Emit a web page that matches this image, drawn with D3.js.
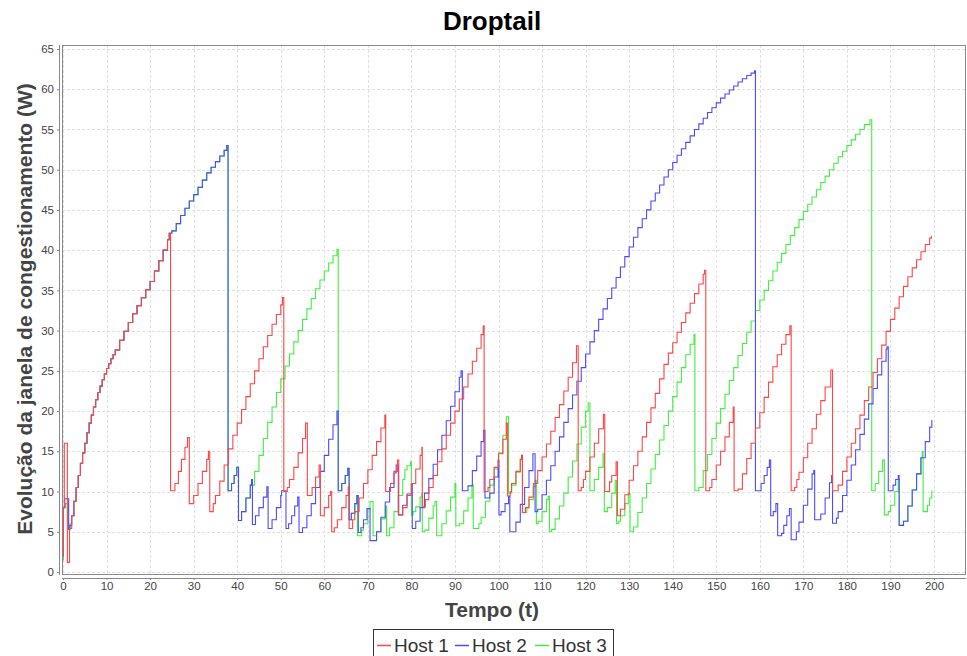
<!DOCTYPE html>
<html>
<head>
<meta charset="utf-8">
<script src="https://cdn.jsdelivr.net/npm/d3@7"></script>
<style>
  body { margin: 0; background: #fff; }
  svg { display: block; font-family: "Liberation Sans", Arial, sans-serif; }
</style>
</head>
<body>
<svg id="chart" width="967" height="656"></svg>
<script>
// ---- data: congestion window (W) of each host over time (t) ----
const xTicks = [0,10,20,30,40,50,60,70,80,90,100,110,120,130,140,150,160,170,180,190,200];
const yTicks = [0,5,10,15,20,25,30,35,40,45,50,55,60,65];
const seriesNames = ["Host 1", "Host 2", "Host 3"];

// slow start shared by the three hosts
const commonRise = [[2,7],[2.5,8.8],[3,10.5],[3.5,12],[4,13.5],[4.5,14.8],[5,16],[5.5,17.3],[6,18.5],[6.5,19.5],[7,20.5],[7.5,21.4],[8,22.3],[8.5,23.1],[9,23.9],[9.5,24.6],[10,25.3],[10.5,25.9],[11,26.5],[11.5,27],[12,27.6],[13,28.8],[14,29.9],[15,31],[16,32.1],[17,33.1],[18,34.1],[19,35.1],[20,36.1],[21,37.4],[22,38.7],[23,40],[24,41.3],[24.4,42.1]];
// continuation shared by hosts 2 and 3 until the loss at t≈37.8
const commonRise23 = [[25,42.4],[26,43.3],[27,44.3],[28,45.2],[29,46.1],[30,46.9],[31,47.8],[32,48.7],[33,49.6],[34,50.3],[35,51],[36,51.7],[37,52.4],[37.6,53],[37.9,10.1],[38.7,11],[39.3,12],[39.9,13],[40.3,6.4],[41,7.5],[42,9.2],[43,10.8]];

const host1 = [[0,2],[0.1,8],[0.3,16],[1.0,1.2],[1.5,5.4]].concat(commonRise, [
  [24.7,10.1],[25.7,11],[26.5,12.5],[27.2,14],[28,15.5],[28.6,16.7],[29.0,8.5],[30,9.5],[31,11],[32,12.5],[33,14],[33.4,15],
  [33.7,7.5],[34.5,8.5],[35,9.5],[36,11.3],[37,13.3],[38,15.3],[39,17],[40,18.5],[41,20.2],[42,21.8],[43,23.4],[44,25],[45,26.5],[46,28],[47,29.4],[48,30.8],[49,32],[50,33.2],[50.4,34.1],
  [50.7,10],[51.5,10.5],[52,11.5],[53,13],[54,14.8],[55,16.6],[55.7,18.5],[56.1,9.5],[57.2,10.5],[58,11.8],[58.8,13.3],
  [59.1,7],[60,8],[61,9.5],[61.4,10],[61.7,5],[62.3,5.5],[63,6.5],[64,8],[65,9.5],[65.5,10.6],
  [65.7,5.4],[66.5,6.5],[67,7.5],[68,9.2],[69,11],[70,12.7],[71,14.5],[72,16.2],[73,17.9],[73.9,19.5],
  [74.1,10],[75.2,11],[76,12.5],[76.8,13.9],[77.1,7.1],[78,8],[79,9.5],[80,11],[81,12.8],[82,14.5],[82.4,15.5],
  [82.5,8.1],[83.2,9],[84,10.5],[85,12],[86,13.7],[87,15.3],[88,17],[89,18.5],[90,20],[91,21.5],[92,23],[93,24.6],[94,26.2],[95,27.8],[96,29.5],[96.5,30.6],
  [96.7,10],[97.6,10.5],[98,11.5],[99,13],[100,14.7],[101,16.5],[101.8,18.5],[102.1,9.45],[102.7,10],[103,11],[104,12.5],[105,14],[105.3,14.5],
  [105.5,7.4],[106.2,8],[107,9.3],[108,11],[109,12.6],[110,14.3],[111,15.9],[112,17.5],[113,19.2],[114,20.8],[115,22.5],[116,24.2],[117,26],[117.9,28.1],
  [118.3,10.1],[119,10.5],[119.5,11.5],[120,12.5],[121,14.3],[122,16],[123,17.8],[124.1,19.6],[124.4,10],[125.5,11.2],[126,12],[127,13.7],
  [127.3,7],[128,7.8],[129,9.6],[130,11.4],[131,13.2],[132,15],[133,16.8],[134,18.6],[135,20.4],[136,22.2],[137,24],[138,25.8],[139,27.2],[140,28.5],[141,29.8],[142,31],[143,32.2],[144,33.4],[145,34.6],[146,35.8],[147,37],[147.3,37.5],
  [147.6,10.1],[148.5,10.5],[149,11.5],[150,13.3],[151,15],[152,16.8],[153,18.6],[153.9,20.5],
  [154.1,10.1],[155,10.3],[156,12.2],[157,14.1],[158,16],[159,17.9],[160,19.8],[161,21.7],[162,23.6],[163,25.5],[164,27],[165,28.3],[166,29.5],[166.9,30.6],
  [167.2,10.1],[168,10.5],[168.5,11.5],[169,12.4],[170,14.2],[171,16],[172,17.8],[173,19.6],[174,21.3],[175,23],[176.3,25.1],
  [176.7,10.1],[178,10.8],[179,12.5],[180,14.3],[181,16],[182,17.8],[183,19.5],[184,21.3],[185,23],[186,24.8],[187,26.5],[188,28.2],[189,29.9],[190,31.4],[191,32.8],[192,34.2],[193,35.5],[194,36.7],[195,37.8],[196,38.8],[197,39.8],[198,40.7],[199,41.5],[199.4,41.8]
]);

const host2 = [[0,2],[0.1,8],[0.4,9.1],[1.3,5.3],[1.6,5.8]].concat(commonRise, commonRise23, [
  [43.3,11.5],[43.5,5.9],[44.2,7],[45,8],[46,9.3],[46.8,10.6],[47.1,5.4],[48,6.5],[49,8],[50,9.5],[50.2,10.1],
  [51.2,5.4],[51.8,6],[52.5,7],[53.2,8.2],[53.9,9.3],[54.2,4.9],[55,5.5],[56,7],[57,8.5],[58,10.5],[59,12.5],[60,14.5],[61,16.5],[62,18.3],[62.9,20],
  [63.2,10.1],[64,11],[64.8,12],[65.4,12.9],[65.7,6.5],[66.2,7.3],[67,8.5],[67.5,9.5],[67.8,4.9],[68.4,5.5],[69,6.5],[69.8,7.9],
  [70.5,3.9],[72,5],[73,6.8],[74,8.7],[75,10.5],[76,12.3],[76.5,13.3],[77,7.1],[78,8.3],[79,9.7],[80,11],
  [80.2,5.4],[81,6.3],[82,8],[83,9.8],[84,11.6],[85,13.4],[86,15.2],[87,17],[88,18.8],[89,20.6],[90,22.4],[91,24.2],[91.4,25],
  [91.7,10.1],[93,10.7],[94,12.6],[95,14.4],[96,16.2],[96.6,17.6],[96.9,9.2],[98,9.8],[99,11.8],[99.9,13.9],
  [100.1,7.1],[100.6,7.5],[101.5,8.5],[102.3,9.4],[102.6,5],[104,6.2],[105,8.4],[106,10.5],[107,12.6],[107.9,14.7],
  [108.4,7.5],[109,7.8],[110,9.6],[111,11.4],[112,13.2],[113,15],[114,16.8],[115,18.6],[116,20.3],[117,22],[118,23.7],[119,25.4],[120,27.1],
  [121,28.6],[122,30],[123,31.4],[124,32.7],[125,34],[126,35.3],[127,36.6],[128,37.9],[129,39.2],[130,40.4],[131,41.6],[132,42.8],[133,43.9],[134,45],
  [135,46.1],[136,47.1],[137,48.1],[138,49.1],[139,50],[140,50.9],[141,51.8],[142,52.6],[143,53.4],[144,54.2],[145,55],[146,55.7],[147,56.4],[148,57.1],
  [149,57.7],[150,58.3],[151,58.9],[152,59.4],[153,59.9],[154,60.4],[155,60.9],[156,61.3],[157,61.7],[158,62],[158.8,62.3],
  [159,10.1],[160.3,11],[161,12],[161.7,13],[162.2,13.9],[162.5,7],[163.1,7.5],[163.7,8.5],[164.1,4.5],[165,4.8],[165.5,5.8],[166.2,7],[166.8,7.9],
  [167.2,4],[168.4,5],[169,6.2],[170,8.3],[171,10.3],[172,12.2],[172.4,12.6],[172.6,6.5],[174,7.2],[175,9.2],[176,11.1],[176.5,12],
  [176.7,6.05],[177.6,6.7],[178,7.5],[179,9.5],[180,11.4],[181,13.3],[182,15.2],[183,17.1],[184,19],[185,20.9],[186,22.8],[187,24.5],[188,26.2],[189,27.7],[189.2,28],
  [189.5,10.1],[190.6,10.8],[191.2,11.5],[191.8,12],[192,5.8],[193,6.3],[194,8.2],[195,10.2],[196,12.2],[197,14.2],[198,16.2],[199,18],[199.5,18.9]
]);

const host3 = [[0,1.5],[0.1,8],[0.6,8.5],[1.2,5.4],[1.6,6]].concat(commonRise, commonRise23, [
  [44,12.5],[45,14.5],[46,16.6],[47,18.6],[48,20.5],[49,22.3],[50,24],[51,25.6],[52,27.1],[53,28.6],[54,30],[55,31.4],[56,32.7],[57,34],[58,35.2],[59,36.3],[60,37.4],[61,38.4],[62,39.3],[62.9,40.1],
  [63.2,10.1],[64,11],[64.8,12],[65.4,12.9],[65.7,6.5],[66.2,7.3],[67,8.5],[67.4,9.5],[67.6,4.5],[68.6,5.2],[69,6],[70,7.8],[70.5,8.75],
  [71.2,4.5],[72,5],[73,6.6],[74,8.2],[74.3,4.5],[75,5.5],[76,7.5],[77,9.5],[78,11.5],[78.5,12.7],[79,13.2],[79.8,13.7],
  [80,7.1],[80.4,7.5],[81,8.1],[82,9.3],[82.4,9.8],[82.5,5],[83.1,5.2],[84,6.7],[85,8.2],[85.4,8.75],[85.8,4.5],[87,6],[88,7.6],[89,9.3],[90,11],
  [90.2,5.75],[91,6],[92,7.6],[93,9.2],[93.9,10.8],[94.2,5.4],[95.5,6],[96,6.8],[97,8.8],[98,10.8],[99,12.8],[100,14.8],[101,17],[101.8,19.3],
  [102.3,9.8],[103,10.8],[104,12.4],[105,14],[105.3,14.5],[105.5,7.4],[106.5,8],[107,9],[108,10.6],[108.4,11.4],[108.7,6],[109.1,6.3],[110,7.5],[111,9],[111.4,9.4],
  [111.7,5],[112.2,5.3],[113,6.6],[114,8.2],[115,9.8],[116,11.8],[117,13.8],[118,15.9],[119,18],[120,20],[120.6,21],
  [121,10.1],[122,11.5],[123,13],[124,14.7],[124.3,7.5],[125,8],[126,9.8],[126.8,11.4],[127.1,6],[127.6,6.3],[128,7],[129,8.5],[129.8,9.8],
  [130.2,5],[131,5.6],[132,7.4],[133,9.2],[134,11],[135,12.8],[136,14.6],[137,16.4],[138,18.2],[139,20],[140,21.8],[141,23.6],[142,25.4],[143,27],[144,28.3],[144.9,29.5],
  [145.1,10.1],[146,10.5],[147,12.6],[148,14.6],[149,16.6],[150,18.5],[151,20.3],[152,22.1],[153,23.8],[154,25.4],[155,26.9],[156,28.4],[157,29.8],[158,31.2],[159,32.5],[160,33.8],
  [161,35],[162,36.2],[163,37.4],[164,38.5],[165,39.6],[166,40.7],[167,41.8],[168,42.8],[169,43.8],[170,44.8],[171,45.7],[172,46.6],[173,47.5],[174,48.4],[175,49.2],
  [176,50],[177,50.8],[178,51.6],[179,52.3],[180,53],[181,53.7],[182,54.4],[183,55],[184,55.6],[185.3,56.2],
  [185.7,10.1],[186.5,11],[187.3,12.5],[188.2,13.9],[188.6,7.1],[189.5,7.5],[190,8.3],[191,10],[191.8,11.5],
  [192,5.8],[193,6.3],[194,8.2],[195,10.2],[196,12.2],[197,14.2],[197.3,15],[197.5,7.5],[198.5,8.3],[199,9.2],[199.5,10.1]
]);

const seriesColors = ["#ff4545", "#4c4cff", "#40f040"];

// ---- layout ----
const svg = d3.select("#chart");
const plot = { left: 62, top: 45, right: 966, bottom: 575 };
const x = d3.scaleLinear().domain([0, 200]).range([63, 934]);
const y = d3.scaleLinear().domain([0, 65]).range([572, 49]);

svg.append("rect").attr("width", 967).attr("height", 656).attr("fill", "#fff");

// title
svg.append("text").attr("x", 492).attr("y", 30).attr("text-anchor", "middle")
  .attr("font-size", 26).attr("font-weight", "bold").attr("fill", "#000").text("Droptail");

// plot background + grid
svg.append("rect").attr("x", plot.left).attr("y", plot.top)
  .attr("width", plot.right - plot.left).attr("height", plot.bottom - plot.top).attr("fill", "#fff");

const grid = svg.append("g").attr("stroke", "#e0e0e0").attr("stroke-width", 1).attr("stroke-dasharray", "3,2");
grid.selectAll("line.v").data(xTicks).join("line")
  .attr("x1", d => Math.round(x(d)) + 0.5).attr("x2", d => Math.round(x(d)) + 0.5)
  .attr("y1", plot.top).attr("y2", plot.bottom);
grid.selectAll("line.h").data(yTicks).join("line")
  .attr("y1", d => Math.round(y(d)) + 0.5).attr("y2", d => Math.round(y(d)) + 0.5)
  .attr("x1", plot.left).attr("x2", plot.right);

// series
svg.append("clipPath").attr("id", "clip").append("rect")
  .attr("x", plot.left).attr("y", plot.top).attr("width", plot.right - plot.left).attr("height", plot.bottom - plot.top);

const line = d3.line().x(d => x(d[0])).y(d => y(d[1])).curve(d3.curveStepAfter);
const allSeries = [host1, host2, host3];
const lines = svg.append("g").attr("clip-path", "url(#clip)");
// first series on top: draw in reverse order
[2, 1, 0].forEach(i => {
  lines.append("path").datum(allSeries[i])
    .attr("fill", "none").attr("stroke", seriesColors[i]).attr("stroke-width", 1.1)
    .attr("d", line);
});

// plot outline
svg.append("rect").attr("x", plot.left + 0.5).attr("y", plot.top + 0.5)
  .attr("width", plot.right - plot.left - 1).attr("height", plot.bottom - plot.top - 1)
  .attr("fill", "none").attr("stroke", "#8a8a8a").attr("stroke-width", 1);

// axes
const axisColor = "#888";
const yAxis = svg.append("g").attr("transform", "translate(59,0)")
  .call(d3.axisLeft(y).tickValues(yTicks).tickSize(2).tickSizeOuter(0).tickPadding(3));
yAxis.select(".domain").remove();
yAxis.append("line").attr("x1", 0.5).attr("x2", 0.5).attr("y1", plot.top).attr("y2", plot.bottom)
  .attr("stroke", axisColor).attr("stroke-width", 1);

const xAxis = svg.append("g").attr("transform", "translate(0,578)")
  .call(d3.axisBottom(x).tickValues(xTicks).tickSize(2).tickSizeOuter(0).tickPadding(2));
xAxis.select(".domain").remove();
xAxis.append("line").attr("x1", plot.left).attr("x2", plot.right).attr("y1", 0.5).attr("y2", 0.5)
  .attr("stroke", axisColor).attr("stroke-width", 1);

[yAxis, xAxis].forEach(a => {
  a.selectAll(".tick line").attr("stroke", axisColor);
  a.selectAll(".tick text").attr("fill", "#444").attr("font-size", 11.5)
    .attr("font-family", "'Liberation Sans', Arial, sans-serif");
});

// axis titles
svg.append("text").attr("x", 492).attr("y", 617).attr("text-anchor", "middle")
  .attr("font-size", 21).attr("font-weight", "bold").attr("fill", "#444").text("Tempo (t)");
svg.append("text").attr("transform", "translate(32,309) rotate(-90)").attr("text-anchor", "middle")
  .attr("font-size", 21).attr("font-weight", "bold").attr("fill", "#444")
  .text("Evolução da janela de congestionamento (W)");

// legend
const legend = svg.append("g");
legend.append("rect").attr("x", 373.5).attr("y", 629.5).attr("width", 240).attr("height", 30)
  .attr("fill", "#fff").attr("stroke", "#333").attr("stroke-width", 1);
const legendX = [377, 455, 535];
seriesNames.forEach((name, i) => {
  legend.append("line").attr("x1", legendX[i]).attr("x2", legendX[i] + 14)
    .attr("y1", 645.5).attr("y2", 645.5).attr("stroke", seriesColors[i]).attr("stroke-width", 1.5);
  legend.append("text").attr("x", legendX[i] + 17).attr("y", 652).attr("font-size", 19)
    .attr("fill", "#333").text(name);
});
</script>
</body>
</html>
